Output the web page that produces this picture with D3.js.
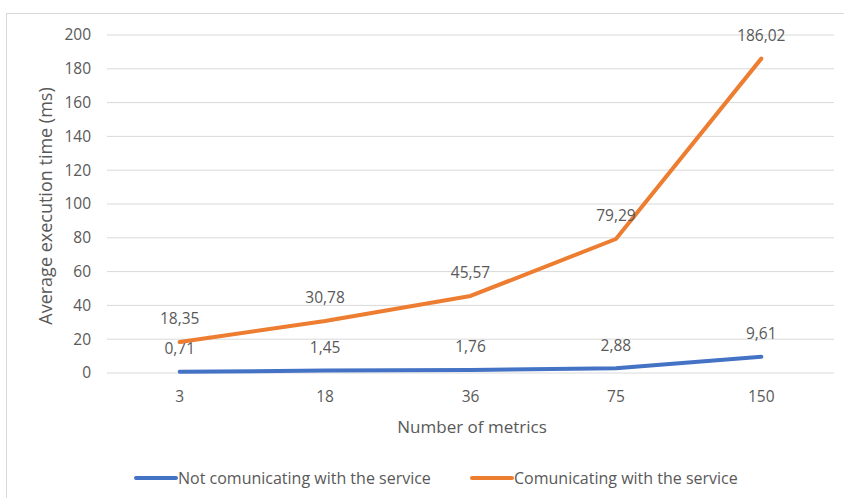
<!DOCTYPE html>
<html><head><meta charset="utf-8">
<script src="https://cdn.jsdelivr.net/npm/d3@7"></script>
<style>body{margin:0;background:#fff}svg{display:block}text{font-family:"Open Sans",sans-serif;fill:#595959}</style>
</head><body><svg id="c" width="844" height="498"></svg>
<script>
const categories = ["3","18","36","75","150"];
const notComm = [0.71,1.45,1.76,2.88,9.61];
const comm = [18.35,30.78,45.57,79.29,186.02];
const yTicks = [0,20,40,60,80,100,120,140,160,180,200];
const seriesNames = ["Not comunicating with the service","Comunicating with the service"];
const colors = ["#4472C4","#ED7D31"];

const svg = d3.select("#c");
svg.append("rect").attr("x",6.5).attr("y",13.5).attr("width",850).attr("height",500).attr("fill","#fff").attr("stroke","#d9d9d9");

const x = d3.scaleBand().domain(categories).range([107,834]);
const y = d3.scaleLinear().domain([0,200]).range([373,35]);
const fmt = v => d3.format(".2f")(v).replace(".",",");

const g = svg.append("g");
yTicks.forEach(t=>{
  g.append("line").attr("x1",107).attr("x2",834).attr("y1",y(t)).attr("y2",y(t)).attr("stroke","#d9d9d9").attr("stroke-width",1);
  g.append("text").attr("x",91).attr("y",y(t)).attr("dy","0.35em").attr("text-anchor","end").attr("font-size",15.5).text(t);
});
categories.forEach(c=>{
  g.append("text").attr("x",x(c)+x.bandwidth()/2).attr("y",397).attr("dy","0.35em").attr("text-anchor","middle").attr("font-size",15.5).text(c);
});
svg.append("text").attr("x",472).attr("y",427).attr("dy","0.35em").attr("text-anchor","middle").attr("font-size",17).text("Number of metrics");
svg.append("text").attr("transform",`translate(46,${(35+373)/2+2}) rotate(-90)`).attr("dy","0.35em").attr("text-anchor","middle").attr("font-size",18).text("Average execution time (ms)");

const line = d3.line().x((d,i)=>x(categories[i])+x.bandwidth()/2).y(d=>y(d));
[notComm,comm].forEach((s,k)=>{
  svg.append("path").attr("d",line(s)).attr("fill","none").attr("stroke",colors[k]).attr("stroke-width",4).attr("stroke-linecap","round").attr("stroke-linejoin","round");
  s.forEach((v,i)=>{
    svg.append("text").attr("x",x(categories[i])+x.bandwidth()/2).attr("y",y(v)-23).attr("dy","0.35em").attr("text-anchor","middle").attr("font-size",15.5).text(fmt(v));
  });
});

const leg = svg.append("g");
const items = [{x:136,name:seriesNames[0],c:colors[0]},{x:472,name:seriesNames[1],c:colors[1]}];
items.forEach(it=>{
  leg.append("line").attr("x1",it.x).attr("x2",it.x+40).attr("y1",478).attr("y2",478).attr("stroke",it.c).attr("stroke-width",4).attr("stroke-linecap","round");
  leg.append("text").attr("x",it.x+42).attr("y",478).attr("dy","0.35em").attr("font-size",16).text(it.name);
});
</script></body></html>
